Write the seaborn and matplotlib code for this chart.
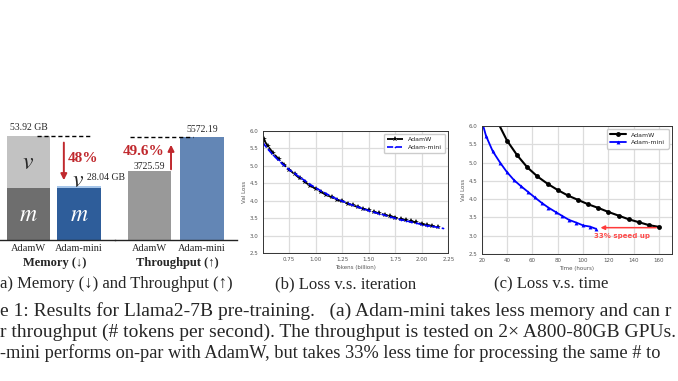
import pandas as pd
import seaborn as sns
import matplotlib.pyplot as plt

# (a) memory and throughput
optimizers = ["AdamW", "Adam-mini"]
mem_m = [26.96, 26.96]
mem_total = [53.92, 28.04]
throughput = [3725.59, 5572.19]

# (b) val loss vs tokens (billion)
tok_adamw = [0.51, 0.55, 0.60, 0.65, 0.70, 0.75, 0.80, 0.85, 0.90, 0.95, 1.00, 1.05,
             1.10, 1.15, 1.20, 1.25, 1.30, 1.35, 1.40, 1.45, 1.50, 1.55, 1.60, 1.65,
             1.70, 1.75, 1.80, 1.85, 1.90, 1.95, 2.00, 2.05, 2.10, 2.15]
loss_adamw = [5.75, 5.55, 5.36, 5.19, 5.03, 4.89, 4.76, 4.64, 4.53, 4.43, 4.34, 4.25,
              4.17, 4.10, 4.03, 3.98, 3.92, 3.87, 3.82, 3.77, 3.73, 3.68, 3.64, 3.60,
              3.56, 3.52, 3.48, 3.45, 3.41, 3.38, 3.34, 3.31, 3.28, 3.25]
tok_mini = [0.50, 0.55, 0.60, 0.65, 0.70, 0.75, 0.80, 0.85, 0.90, 0.95, 1.00, 1.05,
            1.10, 1.15, 1.20, 1.25, 1.30, 1.35, 1.40, 1.45, 1.50, 1.55, 1.60, 1.65,
            1.70, 1.75, 1.80, 1.85, 1.90, 1.95, 2.00, 2.05, 2.10, 2.15, 2.20]
loss_mini = [5.66, 5.47, 5.30, 5.15, 5.01, 4.89, 4.78, 4.67, 4.57, 4.46, 4.37, 4.28,
             4.20, 4.12, 4.05, 3.99, 3.93, 3.87, 3.82, 3.77, 3.72, 3.67, 3.63, 3.59,
             3.54, 3.50, 3.46, 3.43, 3.39, 3.36, 3.32, 3.29, 3.27, 3.24, 3.21]

# (c) val loss vs time (hours)
hours_adamw = [32, 40, 48, 56, 64, 72, 80, 88, 96, 104, 112, 120, 128, 136, 144, 152, 160]
time_loss_adamw = [6.15, 5.60, 5.20, 4.87, 4.62, 4.42, 4.25, 4.10, 3.98, 3.86, 3.76,
                   3.65, 3.55, 3.45, 3.37, 3.29, 3.24]
hours_mini = [18, 23.4, 28.7, 34.5, 39.7, 45.5, 50.8, 56.5, 61.8, 67.3, 72.6, 78.3,
              83.6, 89.1, 94.6, 100.2, 105.4, 110.1]
time_loss_mini = [6.40, 5.73, 5.31, 5.00, 4.75, 4.52, 4.36, 4.20, 4.05, 3.90, 3.77,
                  3.65, 3.54, 3.43, 3.36, 3.28, 3.25, 3.19]

sns.set_style("whitegrid")
plt.rcParams['font.family'] = ['DejaVu Sans']
plt.rcParams['mathtext.fontset'] = 'stix'
SERIF = ['Liberation Serif', 'DejaVu Serif']
RED = '#c0282d'

W, H = 678, 381
fig = plt.figure(figsize=(W / 100, H / 100), dpi=100)
fig.patch.set_facecolor('white')


def px_axes(left, top, right, bottom):
    return fig.add_axes([left / W, 1 - bottom / H, (right - left) / W, (bottom - top) / H])


def bar_axes_style(ax, label, label_x):
    ax.grid(False)
    for s in ['left', 'right', 'top']:
        ax.spines[s].set_visible(False)
    ax.spines['bottom'].set_color('#222222')
    ax.spines['bottom'].set_linewidth(1.0)
    ax.set_yticks([])
    ax.set_ylabel('')
    ax.set_xticks([0, 1], optimizers)
    ax.tick_params(axis='x', length=0, pad=3, labelsize=7.5)
    for t in ax.get_xticklabels():
        t.set_family(SERIF)
    ax.set_xlabel(label, family=SERIF, fontweight='bold', fontsize=9, labelpad=1)
    ax.xaxis.set_label_coords(label_x, -0.145)
    ax.set_facecolor('none')


# ---- (a) memory
df_mem = pd.DataFrame({"opt": optimizers, "total": mem_total, "m": mem_m})
ax_m = px_axes(0, 120, 115, 240)
sns.barplot(data=df_mem, x="opt", y="total", hue="opt", palette=['#c2c2c2', '#a6c6ea'],
            width=0.87, saturation=1, errorbar=None, legend=False, linewidth=0, ax=ax_m)
sns.barplot(data=df_mem, x="opt", y="m", hue="opt", palette=['#6e6e6e', '#2e5d9a'],
            width=0.87, saturation=1, errorbar=None, legend=False, linewidth=0, ax=ax_m)
ax_m.set_xlim(-0.564, 1.713)
ax_m.set_ylim(0, 62.2)
bar_axes_style(ax_m, 'Memory (↓)', 55 / 115)

ax_m.text(0, mem_total[0] + 4.2, f'{mem_total[0]:.2f} GB', ha='center', va='center',
          family=SERIF, fontsize=7)
ax_m.text(1.158, mem_total[1] + 4.1, f'{mem_total[1]:.2f} GB', ha='left', va='center',
          family=SERIF, fontsize=7)
ax_m.text(0, (mem_total[0] + mem_m[0]) / 2, '$v$', ha='center', va='center', fontsize=17)
ax_m.text(0, mem_m[0] / 2, '$m$', ha='center', va='center', color='white', fontsize=17)
ax_m.text(0.99, mem_total[1] + 3.0, '$v$', ha='center', va='center', fontsize=17)
ax_m.text(1, mem_m[1] / 2, '$m$', ha='center', va='center', color='white', fontsize=17)
ax_m.hlines(mem_total[0], 0.168, 1.218, colors='black', linestyles=(0, (3, 2)), lw=1)
ax_m.annotate('', xy=(0.70, mem_total[1] + 1.5), xytext=(0.70, mem_total[0] - 2),
              arrowprops=dict(arrowstyle='-|>', color=RED, lw=1.4, mutation_scale=9))
ax_m.text(0.782, 42.5, '48%', ha='left', va='center', color=RED, fontweight='bold',
          family=SERIF, fontsize=11)

# ---- (a) throughput
df_thr = pd.DataFrame({"opt": optimizers, "tput": throughput})
ax_t = px_axes(115, 120, 237, 240)
sns.barplot(data=df_thr, x="opt", y="tput", hue="opt", palette=['#999999', '#6386b5'],
            width=0.82, saturation=1, errorbar=None, legend=False, linewidth=0, ax=ax_t)
ax_t.set_xlim(-0.657, 1.667)
ax_t.set_ylim(0, 6492)
bar_axes_style(ax_t, 'Throughput (↑)', 62 / 122)
ax_t.text(0, throughput[0] + 230, f'{throughput[0]:.2f}', ha='center', va='center',
          family=SERIF, fontsize=7)
ax_t.text(1, throughput[1] + 430, f'{throughput[1]:.2f}', ha='center', va='center',
          family=SERIF, fontsize=7)
ax_t.hlines(throughput[1], -0.371, 0.829, colors='black', linestyles=(0, (3, 2)), lw=1)
ax_t.annotate('', xy=(0.41, throughput[1] - 270), xytext=(0.41, throughput[0] - 50),
              arrowprops=dict(arrowstyle='-|>', color=RED, lw=1.4, mutation_scale=9))
ax_t.text(0.295, 4761, '49.6%', ha='right', va='center', color=RED, fontweight='bold',
          family=SERIF, fontsize=11)


def loss_axes_style(ax, xlabel):
    ax.set_ylim(2.5, 6.0)
    ax.set_yticks([2.5, 3.0, 3.5, 4.0, 4.5, 5.0, 5.5, 6.0])
    ax.grid(True, color='#dcdcdc', lw=0.9)
    for s in ax.spines.values():
        s.set_visible(True)
        s.set_color('#333333')
        s.set_linewidth(0.7)
    ax.tick_params(labelsize=4, colors='#555555', length=1.5, width=0.5, pad=1.5)
    ax.set_xlabel(xlabel, fontsize=4, color='#555555', labelpad=2)
    ax.set_ylabel('Val Loss', fontsize=4, color='#555555', labelpad=2)
    ax.legend(loc='upper right', fontsize=4.5, handlelength=2.6, borderpad=0.5,
              labelspacing=0.4, framealpha=1, edgecolor='#cccccc')


# ---- (b) loss vs iteration
ax_b = px_axes(262.7, 130.7, 448.3, 253.3)
sns.lineplot(x=tok_adamw, y=loss_adamw, ax=ax_b, color='black', linestyle='--',
             marker='*', markersize=4, markeredgewidth=0, lw=1.3, label='AdamW')
sns.lineplot(x=tok_mini, y=loss_mini, ax=ax_b, color='blue', linestyle='--',
             marker='.', markersize=2.5, markeredgewidth=0, lw=1.2, label='Adam-mini')
ax_b.set_xlim(0.5, 2.25)
ax_b.set_xticks([0.75, 1.00, 1.25, 1.50, 1.75, 2.00, 2.25])
ax_b.set_xticklabels(['0.75', '1.00', '1.25', '1.50', '1.75', '2.00', '2.25'])
loss_axes_style(ax_b, 'Tokens (billion)')

# ---- (c) loss vs time
ax_c = px_axes(481.7, 126, 671.7, 254)
sns.lineplot(x=hours_adamw, y=time_loss_adamw, ax=ax_c, color='black', marker='o',
             markersize=3.5, markeredgewidth=0, lw=1.5, label='AdamW')
sns.lineplot(x=hours_mini, y=time_loss_mini, ax=ax_c, color='blue', marker='^',
             markersize=2.8, markeredgewidth=0, lw=1.3, label='Adam-mini')
ax_c.set_xlim(20, 170)
ax_c.set_xticks([20, 40, 60, 80, 100, 120, 140, 160])
loss_axes_style(ax_c, 'Time (hours)')
ax_c.annotate('', xy=(hours_mini[-1] + 1.5, time_loss_adamw[-1] - 0.02),
              xytext=(hours_adamw[-1], time_loss_adamw[-1] - 0.02),
              arrowprops=dict(arrowstyle='-|>', color='#ff3b3b', lw=1.1, mutation_scale=6))
ax_c.text(131, 3.0, '33% speed up', ha='center', va='center', color='#ff4b4b',
          fontweight='bold', fontsize=5)

# ---- captions (the source screenshot is cropped at both sides)
fig.text(0, 1 - 284 / H, 'a) Memory (↓) and Throughput (↑)', ha='left',
         va='center', family=SERIF, fontsize=12)
fig.text(346 / W, 1 - 284 / H, '(b) Loss v.s. iteration', ha='center', va='center',
         family=SERIF, fontsize=12)
fig.text(551 / W, 1 - 284 / H, '(c) Loss v.s. time', ha='center', va='center',
         family=SERIF, fontsize=12)
fig.text(0, 1 - 311 / H, 'e 1: Results for Llama2-7B pre-training.   (a) Adam-mini takes less '
         'memory and can r', ha='left', va='center', family=SERIF, fontsize=14)
fig.text(0, 1 - 332 / H, 'r throughput (# tokens per second). The throughput is tested on '
         '2× A800-80GB GPUs.', ha='left', va='center', family=SERIF, fontsize=14)
fig.text(0, 1 - 353 / H, '-mini performs on-par with AdamW, but takes 33% less time for '
         'processing the same # to', ha='left', va='center', family=SERIF, fontsize=13.2)

fig.savefig('out.png', dpi=100, facecolor='white')
